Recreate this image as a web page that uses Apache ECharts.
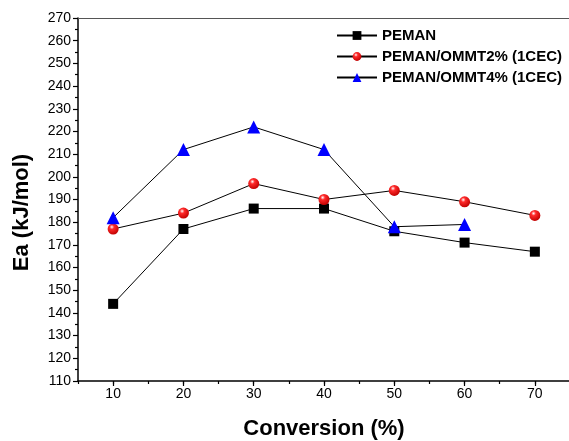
<!DOCTYPE html>
<html>
<head>
<meta charset="utf-8">
<script src="https://cdn.jsdelivr.net/npm/echarts@6/dist/echarts.min.js"></script>
<style>
  html, body { margin: 0; padding: 0; background: #fff; }
  #chart { width: 569px; height: 441px; }
</style>
</head>
<body>
<div id="chart"></div>
<script>
// conversion (%) values on x
var conversion = [10, 20, 30, 40, 50, 60, 70];
var xTickLabels = [10, 20, 30, 40, 50, 60, 70];
// Ea (kJ/mol) for each sample
var peman = [144, 177, 186, 186, 176, 171, 167];
var ommt2 = [177, 184, 197, 190, 194, 189, 183];
var ommt4 = [182, 212, 222, 212, 178, 179];

function pairs(xs, ys) {
    var out = [];
    for (var i = 0; i < ys.length; i++) {
        out.push([xs[i], ys[i]]);
    }
    return out;
}

var font = 'Liberation Sans, Arial, sans-serif';
var myChart = echarts.init(document.getElementById('chart'));

var redBall = {
    type: 'radial', x: 0.38, y: 0.32, r: 0.7,
    colorStops: [
        {offset: 0, color: '#ffffff'},
        {offset: 0.3, color: '#ff2a2a'},
        {offset: 1, color: '#c00000'}
    ]
};

myChart.setOption({
    animation: false,
    grid: {
        left: 78, top: 18, width: 492, bottom: 60,
        outerBoundsMode: 'none', containLabel: false
    },
    legend: {
        orient: 'vertical',
        left: 331, top: 23,
        itemWidth: 40, itemHeight: 11, itemGap: 6,
        textStyle: {fontFamily: font, fontWeight: 'bold', fontSize: 15, color: '#000'},
        data: ['PEMAN', 'PEMAN/OMMT2% (1CEC)', 'PEMAN/OMMT4% (1CEC)']
    },
    xAxis: [
        {
            type: 'value', min: 5, max: 75, interval: 5,
            name: 'Conversion (%)', nameLocation: 'middle', nameGap: 37,
            nameTextStyle: {fontFamily: font, fontWeight: 'bold', fontSize: 22, color: '#000'},
            axisLine: {lineStyle: {color: '#000', width: 1.5}},
            axisTick: {show: true, length: 5, lineStyle: {color: '#000', width: 1.2},
                customValues: xTickLabels},
            axisLabel: {fontFamily: font, fontSize: 14, color: '#000', margin: 6,
                customValues: xTickLabels},
            splitLine: {show: false}
        },
        {
            // minor ticks only
            type: 'value', min: 5, max: 75, interval: 5, position: 'bottom',
            axisLine: {show: false},
            axisTick: {show: true, length: 3, lineStyle: {color: '#000', width: 1.2}},
            axisLabel: {show: false},
            splitLine: {show: false}
        },
        {
            // top frame line
            type: 'value', min: 5, max: 75, position: 'top',
            axisLine: {show: true, lineStyle: {color: '#555', width: 1}},
            axisTick: {show: false},
            axisLabel: {show: false},
            splitLine: {show: false}
        }
    ],
    yAxis: {
        type: 'value', min: 110, max: 270, interval: 10,
        name: 'Ea (kJ/mol)', nameLocation: 'middle', nameGap: 45,
        nameTextStyle: {fontFamily: font, fontWeight: 'bold', fontSize: 22, color: '#000',
            padding: [0, 26, 0, 0]},
        axisLine: {show: true, lineStyle: {color: '#000', width: 1.5}},
        axisTick: {show: true, length: 5, lineStyle: {color: '#000', width: 1.2}},
        minorTick: {show: true, splitNumber: 2, length: 3, lineStyle: {color: '#000', width: 1.2}},
        axisLabel: {fontFamily: font, fontSize: 14, color: '#000', margin: 7},
        splitLine: {show: false}
    },
    series: [
        {
            name: 'PEMAN', type: 'line',
            data: pairs(conversion, peman),
            symbol: 'rect', symbolSize: 10,
            itemStyle: {color: '#000'},
            lineStyle: {color: '#000', width: 1}
        },
        {
            name: 'PEMAN/OMMT2% (1CEC)', type: 'line',
            data: pairs(conversion, ommt2),
            symbol: 'circle', symbolSize: 11,
            itemStyle: {color: redBall, borderWidth: 0},
            lineStyle: {color: '#000', width: 1}
        },
        {
            name: 'PEMAN/OMMT4% (1CEC)', type: 'line',
            data: pairs(conversion, ommt4),
            symbol: 'triangle', symbolSize: 13,
            itemStyle: {color: '#0000ff'},
            lineStyle: {color: '#000', width: 1}
        }
    ]
});
</script>
</body>
</html>
